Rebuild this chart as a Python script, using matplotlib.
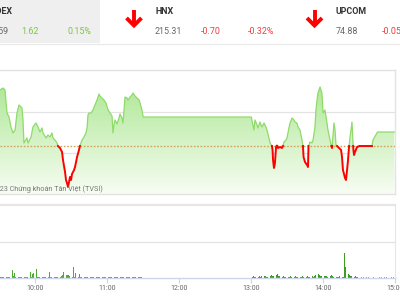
import numpy as np
import matplotlib
matplotlib.use('Agg')
import matplotlib.pyplot as plt
from matplotlib.colors import LinearSegmentedColormap
from matplotlib.patches import Rectangle

plt.rcParams['font.family'] = ['Roboto', 'DejaVu Sans']

# ---------------- data ----------------
# intraday index (time in minutes after 09:00)
price_times = [26.7, 30.9, 33.4, 35.0, 36.7, 38.4, 40.0, 41.7, 43.4, 45.0, 46.7, 49.2, 50.0, 50.8,
               53.3, 54.2, 56.7, 58.3, 60.8, 62.5, 64.2, 65.8, 66.7, 69.2, 70.8, 72.5, 74.1, 75.0,
               76.6, 78.3, 79.1, 80.8, 82.5, 83.3, 85.0, 85.8, 86.6, 87.5, 88.3, 89.1, 90.0, 90.8,
               92.5, 93.3, 95.0, 96.6, 97.4, 99.1, 100.8, 102.4, 103.3, 104.1, 104.9, 106.6, 108.3,
               109.9, 111.6, 113.3, 114.1, 115.8, 117.4, 119.1, 120.8, 122.4, 124.1, 124.9, 125.7,
               126.6, 128.2, 129.9, 130.7, 132.4, 133.2, 134.1, 134.9, 136.6, 137.4, 139.1, 140.7,
               141.6, 143.2, 144.9, 146.6, 147.4, 149.0, 150.0,
               240.0, 242.2, 243.1, 244.8, 245.6, 247.2, 248.9, 250.6, 252.2, 253.1, 254.7, 255.6,
               257.2, 257.7, 258.1, 258.9, 259.7, 260.6, 261.4, 262.2, 263.9, 265.5, 266.4, 267.2,
               268.9, 269.7, 270.5, 272.2, 273.9, 275.5, 276.4, 278.0, 278.9, 280.5, 282.2, 283.0,
               283.5, 284.7, 286.4, 287.2, 287.6, 288.9, 290.5, 291.4, 293.0, 293.8, 294.7, 295.5,
               296.3, 297.2, 298.0, 298.8, 299.7, 301.3, 303.0, 303.8, 305.5, 306.3, 307.2, 308.0,
               308.8, 309.7, 310.5, 312.2, 313.0, 314.7, 315.5, 316.3, 318.0, 318.8, 319.7, 320.5,
               321.3, 322.1, 323.0, 323.8, 324.6, 325.0, 325.5, 326.3, 328.0, 330.0, 340.4, 341.3,
               345.0, 359.0]
price_values = [1065.4, 1065.6, 1065.8, 1065.6, 1063.3, 1062.9, 1061.9, 1061.3, 1061.6, 1063.3, 1064.1,
                1063.8, 1062.6, 1060.3, 1060.8, 1060.3, 1060.9, 1061.9, 1062.3, 1061.9, 1061.4, 1061.8,
                1061.3, 1060.8, 1061.1, 1060.9, 1061.3, 1060.8, 1060.6, 1060.3, 1060.0, 1059.8, 1059.4,
                1058.6, 1057.4, 1056.6, 1056.3, 1055.9, 1056.4, 1056.9, 1056.6, 1057.2, 1057.6, 1057.9,
                1058.9, 1059.6, 1060.0, 1060.6, 1060.9, 1061.3, 1061.8, 1063.1, 1063.3, 1063.3, 1063.6,
                1064.1, 1064.6, 1065.2, 1065.0, 1064.8, 1064.6, 1064.3, 1063.6, 1063.3, 1063.0, 1061.3,
                1062.1, 1062.6, 1062.2, 1062.8, 1063.2, 1062.8, 1062.3, 1063.6, 1064.9, 1064.8, 1064.6,
                1064.9, 1065.1, 1065.3, 1065.0, 1064.8, 1064.6, 1064.3, 1063.6, 1062.9,
                1062.9, 1061.6, 1062.6, 1062.1, 1061.8, 1062.4, 1061.9, 1062.3, 1061.9, 1061.6, 1060.8,
                1060.3, 1060.0, 1059.6, 1058.6, 1057.8, 1058.3, 1059.9, 1060.1, 1059.8, 1059.9, 1059.8,
                1060.0, 1060.4, 1060.6, 1060.8, 1061.3, 1062.3, 1062.8, 1062.6, 1062.4, 1062.3, 1061.9,
                1061.6, 1060.6, 1060.0, 1058.9, 1058.4, 1058.1, 1057.9, 1060.0, 1060.4, 1060.3, 1060.6,
                1061.9, 1063.6, 1064.6, 1065.3, 1065.6, 1065.9, 1065.6, 1065.3, 1063.3, 1063.6, 1062.3,
                1061.6, 1060.6, 1060.1, 1059.8, 1061.1, 1062.3, 1061.6, 1060.1, 1059.9, 1059.8, 1059.6,
                1058.9, 1057.6, 1056.8, 1056.6, 1057.6, 1058.6, 1059.9, 1060.8, 1061.6, 1062.4, 1060.3,
                1059.6, 1059.1, 1059.4, 1059.9, 1060.0, 1060.0, 1060.6, 1061.4, 1061.4]
reference = 1060.0

# volume per minute (thousand shares)
vol_morning_start = 31
vol_morning = [30, 40, 30, 30, 40, 30, 30, 30, 40, 30,
               220, 60, 140, 30, 40, 30, 30, 30, 30, 140,
               30, 30, 40, 30, 30, 170, 40, 120, 150, 40,
               240, 30, 40, 30, 30, 30, 40, 30, 30, 30,
               40, 170, 30, 30, 40, 30, 30, 30, 30, 40,
               40, 50, 90, 160, 110, 90, 80, 70, 60, 40,
               30, 310, 40, 140, 40, 30, 110, 30, 30, 60,
               30, 20, 30, 20, 40, 20, 30, 20, 30, 20,
               30, 20, 30, 20, 20, 30, 20, 30, 20, 20,
               30, 20, 20, 30, 20, 20, 30, 20, 20, 30,
               20, 20, 30, 20, 20, 30, 20, 20, 30, 20,
               20, 20, 30, 20, 20, 20, 30, 20, 20]
vol_afternoon_start = 240
vol_afternoon = [250, 40, 50, 40, 40, 50, 40, 60, 40, 50,
                 40, 50, 60, 40, 40, 50, 60, 70, 60, 50,
                 80, 90, 110, 60, 50, 40, 40, 50, 40, 40,
                 50, 40, 40, 50, 40, 40, 40, 50, 40, 40,
                 50, 40, 40, 50, 40, 40, 40, 50, 40, 40,
                 40, 50, 40, 60, 70, 60, 110, 70, 60, 50,
                 40, 50, 60, 50, 40, 40, 50, 80, 60, 40,
                 50, 40, 40, 40, 50, 40, 40, 40, 690, 300,
                 170, 100, 80, 60, 50, 40, 40, 50, 40, 30]
vol_late_times = [332, 334, 336, 338, 340, 342, 345, 347, 349, 351, 353, 355, 357, 359]
vol_late = [20, 20, 20, 20, 20, 20, 1390, 20, 20, 20, 20, 20, 20, 20]

tick_minutes = [60, 120, 180, 240, 300, 360]
tick_labels = ['10:00', '11:00', '12:00', '13:00', '14:00', '15:00']

hdr_vn = ['VNINDEX', '1,063.59', '1.62', '0.15%']
hdr_hnx = ['HNX', '215.31', '-0.70', '-0.32%']
hdr_upcom = ['UPCOM', '74.88', '-0.05', '-0.07%']
copyright_text = '©2023 Chứng khoán Tân Việt (TVSI)'

# ---------------- figure ----------------
W, H = 400, 300
fig = plt.figure(figsize=(4, 3), dpi=100)
fig.patch.set_facecolor('white')

bg = fig.add_axes([0, 0, 1, 1])
bg.set_xlim(0, W)
bg.set_ylim(H, 0)
bg.axis('off')

# header
bg.add_patch(Rectangle((0, 0), 100, 43, facecolor='#efefef', edgecolor='none'))
bg.plot([0, W], [43.5, 43.5], color='#e9e9e9', lw=0.8)

GREEN_T = '#7cc443'
RED_T = '#f23b3b'
GRAY_T = '#666666'
DARK_T = '#333333'
fs_name = 6.4
fs_num = 6.4

bg.text(13, 12, hdr_vn[0], ha='right', va='center', fontsize=fs_name, fontweight='bold', color=DARK_T)
bg.text(8, 31, hdr_vn[1], ha='right', va='center', fontsize=fs_num, color=GRAY_T)
bg.text(21, 31, hdr_vn[2], ha='left', va='center', fontsize=fs_num, color=GREEN_T)
bg.text(67, 31, hdr_vn[3], ha='left', va='center', fontsize=fs_num, color=GREEN_T)

for x0, vals in [(155, hdr_hnx), (336, hdr_upcom)]:
    bg.text(x0, 12, vals[0], ha='left', va='center', fontsize=fs_name, fontweight='bold', color=DARK_T)
    bg.text(x0, 31, vals[1], ha='left', va='center', fontsize=fs_num, color=GRAY_T)
    bg.text(x0 + 46, 31, vals[2], ha='left', va='center', fontsize=fs_num, color=RED_T)
    bg.text(x0 + 93, 31, vals[3], ha='left', va='center', fontsize=fs_num, color=RED_T)

# red down arrows
for cx in (134, 314.5):
    bg.plot([cx, cx], [9.5, 24], color='#ff0000', lw=2.8, solid_capstyle='butt')
    bg.plot([cx - 7.5, cx, cx + 7.5], [18, 25.5, 18], color='#ff0000', lw=2.8,
            solid_capstyle='butt', solid_joinstyle='miter')

# ---------------- price panel ----------------
x0m, x1m = 30.87, 359.6
pax = fig.add_axes([0, (H - 194) / H, 395 / W, 124 / H])
pax.patch.set_alpha(0)
y0v, y1v = 1055.2, 1067.6

t = np.array(price_times)
v = np.array(price_values)
# insert crossing points with reference
tt, vv = [t[0]], [v[0]]
for i in range(1, len(t)):
    a, b = v[i - 1] - reference, v[i] - reference
    if a * b < 0:
        f = a / (a - b)
        tt.append(t[i - 1] + f * (t[i] - t[i - 1]))
        vv.append(reference)
    tt.append(t[i])
    vv.append(v[i])
tt = np.array(tt)
vv = np.array(vv)

grad = np.linspace(0, 1, 256).reshape(-1, 1)
cmap = LinearSegmentedColormap.from_list('g', ['#f7fdf3', '#a6e58a'])
im = pax.imshow(grad, extent=[x0m, x1m, y0v, y1v], origin='lower', aspect='auto',
                cmap=cmap, zorder=1, interpolation='bilinear')
poly = pax.fill_between(tt, vv, y0v, facecolor='none', edgecolor='none')
im.set_clip_path(poly.get_paths()[0], pax.transData)

pax.axhline(reference, color='#d4a35c', lw=1.0, ls=(0, (1.2, 1.2)), zorder=3)

green_line = np.where(vv >= reference, vv, np.nan)
red_line = np.where(vv <= reference, vv, np.nan)
pax.plot(tt, green_line, color='#8edb69', lw=0.9, zorder=4)
pax.plot(tt, red_line, color='#ff0000', lw=1.4, zorder=5)

pax.set_xlim(x0m, x1m)
pax.set_ylim(y0v, y1v)
pax.set_yticks([1059.3, 1063.4])
pax.set_yticklabels([])
pax.set_xticks([])
pax.tick_params(length=0)
pax.yaxis.grid(True, color='#e3e3e3', lw=0.9)
pax.set_axisbelow(True)
for s in ('top', 'bottom', 'right'):
    pax.spines[s].set_color('#e3e3e3')
    pax.spines[s].set_linewidth(1.0)
pax.spines['left'].set_visible(False)

pax.text(103, 189, copyright_text, transform=bg.transData, ha='right', va='center',
         fontsize=5.2, color='#777777', zorder=10)

# ---------------- volume panel ----------------
vax = fig.add_axes([0, (H - 278) / H, 395 / W, 73 / H])
vax.patch.set_alpha(0)
vm_t = np.arange(vol_morning_start, vol_morning_start + len(vol_morning))
va_t = np.arange(vol_afternoon_start, vol_afternoon_start + len(vol_afternoon))
vax.bar(vm_t, vol_morning, width=0.7, color='#4cae2f', linewidth=0)
vax.bar(va_t, vol_afternoon, width=0.7, color='#3b9d22', linewidth=0)
vax.bar(vol_late_times, vol_late, width=0.8, color='#6cc24a', linewidth=0)

vax.set_xlim(x0m, x1m)
vax.set_ylim(0, 2028)
vax.set_yticks([1000])
vax.set_yticklabels([])
vax.yaxis.grid(True, color='#e3e3e3', lw=0.9)
vax.set_axisbelow(True)
vax.tick_params(axis='y', length=0)
vax.set_xticks(tick_minutes)
vax.set_xticklabels(tick_labels)
vax.tick_params(axis='x', direction='out', length=3.6, width=0.8, color='#ccd6eb',
                labelcolor='#666666', labelsize=5.0, pad=1.6)
vax.spines['top'].set_color('#e6e6e6')
vax.spines['top'].set_linewidth(1.5)
vax.spines['right'].set_color('#e6e6e6')
vax.spines['bottom'].set_color('#ccd6eb')
vax.spines['bottom'].set_linewidth(1.0)
vax.spines['left'].set_visible(False)

fig.savefig('out.png', dpi=100)
